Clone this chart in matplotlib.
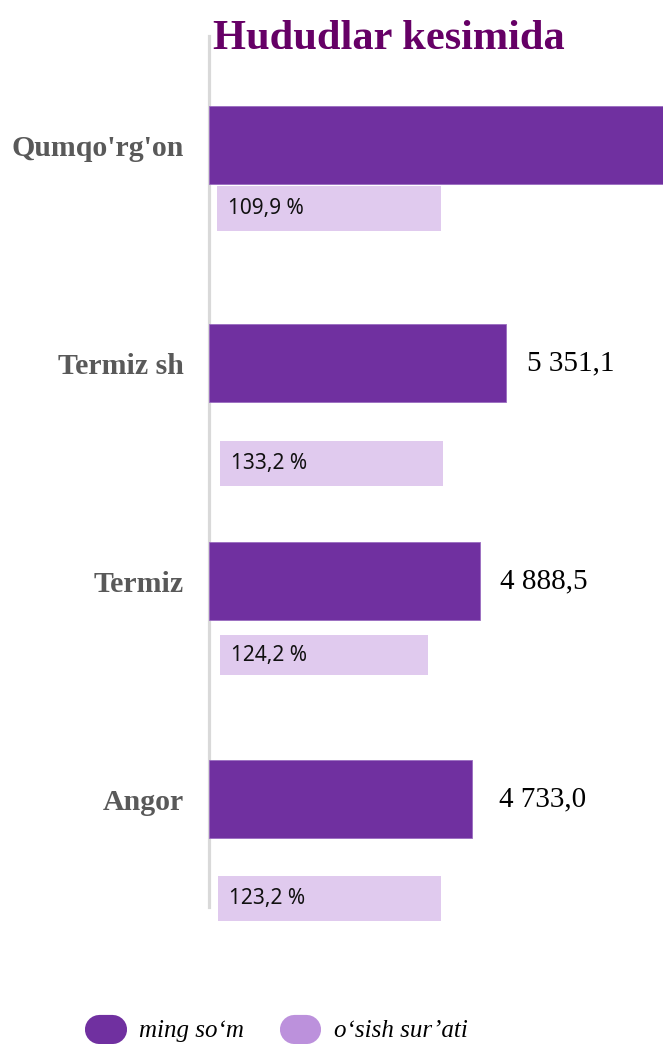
import numpy as np
import matplotlib.pyplot as plt
from matplotlib.lines import Line2D

# data
regions = ["Qumqo'rg'on", "Termiz sh", "Termiz", "Angor"]
amount = [8500.0, 5351.1, 4888.5, 4733.0]      # ming so'm (first bar runs past the frame)
growth = [109.9, 133.2, 124.2, 123.2]          # o'sish sur'ati, %
growth_box = [4030, 4020, 3750, 4020]          # length of the light label strips

# layout
pos = np.arange(len(regions))
box_shift = [0.29, 0.46, 0.34, 0.456]
box_height = [0.206, 0.206, 0.183, 0.206]
box_left = [150, 200, 200, 165]
label_pad = [15, 15, 14, 20]
X_MAX = 8180

PURPLE = '#7030A0'
LIGHT = '#E0CAEE'
LEGEND_LIGHT = '#BC91DC'

fig = plt.figure(figsize=(6.67, 10.44), dpi=100)
ax = fig.add_axes([209 / 667, 104 / 1044, 454 / 667, 904 / 1044])

ax.barh(pos, amount, height=0.355, color=PURPLE, edgecolor='#9a6cc0', linewidth=0.6)
ax.barh(pos + np.array(box_shift), growth_box, left=box_left, height=box_height,
        color=LIGHT)

for i in range(len(regions)):
    yb = pos[i] + box_shift[i]
    ax.annotate(f"{growth[i]:.1f} %".replace('.', ','), xy=(box_left[i], yb),
                xytext=(8, 0), textcoords='offset points', va='center', ha='left',
                fontsize=15, family='Noto Sans', color='#111111')
    if amount[i] < X_MAX:
        txt = f"{amount[i]:,.1f}".replace(',', ' ').replace('.', ',')
        ax.annotate(txt, xy=(amount[i], pos[i]), xytext=(label_pad[i], 0),
                    textcoords='offset points', va='center', ha='left',
                    fontsize=21, family='Liberation Serif', color='black')

ax.set_xlim(0, X_MAX)
ax.set_ylim((940 - 145) / 218, -0.5)
ax.set_yticks(pos)
ax.set_yticklabels(regions, fontsize=21.5, family='Liberation Serif',
                   fontweight='bold', color='#595959')
ax.tick_params(axis='y', length=0, pad=18)
ax.set_xticks([])
for s in ax.spines.values():
    s.set_visible(False)
ax.axvline(0, ymin=(940 - 907) / 904, ymax=1.0, color='#d9d9d9', lw=2.3,
           clip_on=False, zorder=0)

fig.text(213 / 667, 1 - 49 / 1044, "Hududlar kesimida", fontsize=30.5,
         family='Liberation Serif', fontweight='bold', color='#660066',
         va='baseline', ha='left')

handles = [Line2D([0], [0], color=PURPLE, lw=21, solid_capstyle='round'),
           Line2D([0], [0], color=LEGEND_LIGHT, lw=21, solid_capstyle='round')]
fig.legend(handles, ["ming so\u2018m", "o\u2018sish sur\u2019ati"],
           loc='lower center', bbox_to_anchor=(0.425, -0.02), ncol=2, frameon=False,
           handlelength=0.5, handletextpad=1.1, columnspacing=2.0,
           prop={'family': 'Liberation Serif', 'style': 'italic', 'size': 18})

fig.savefig('out.png', dpi=100)
